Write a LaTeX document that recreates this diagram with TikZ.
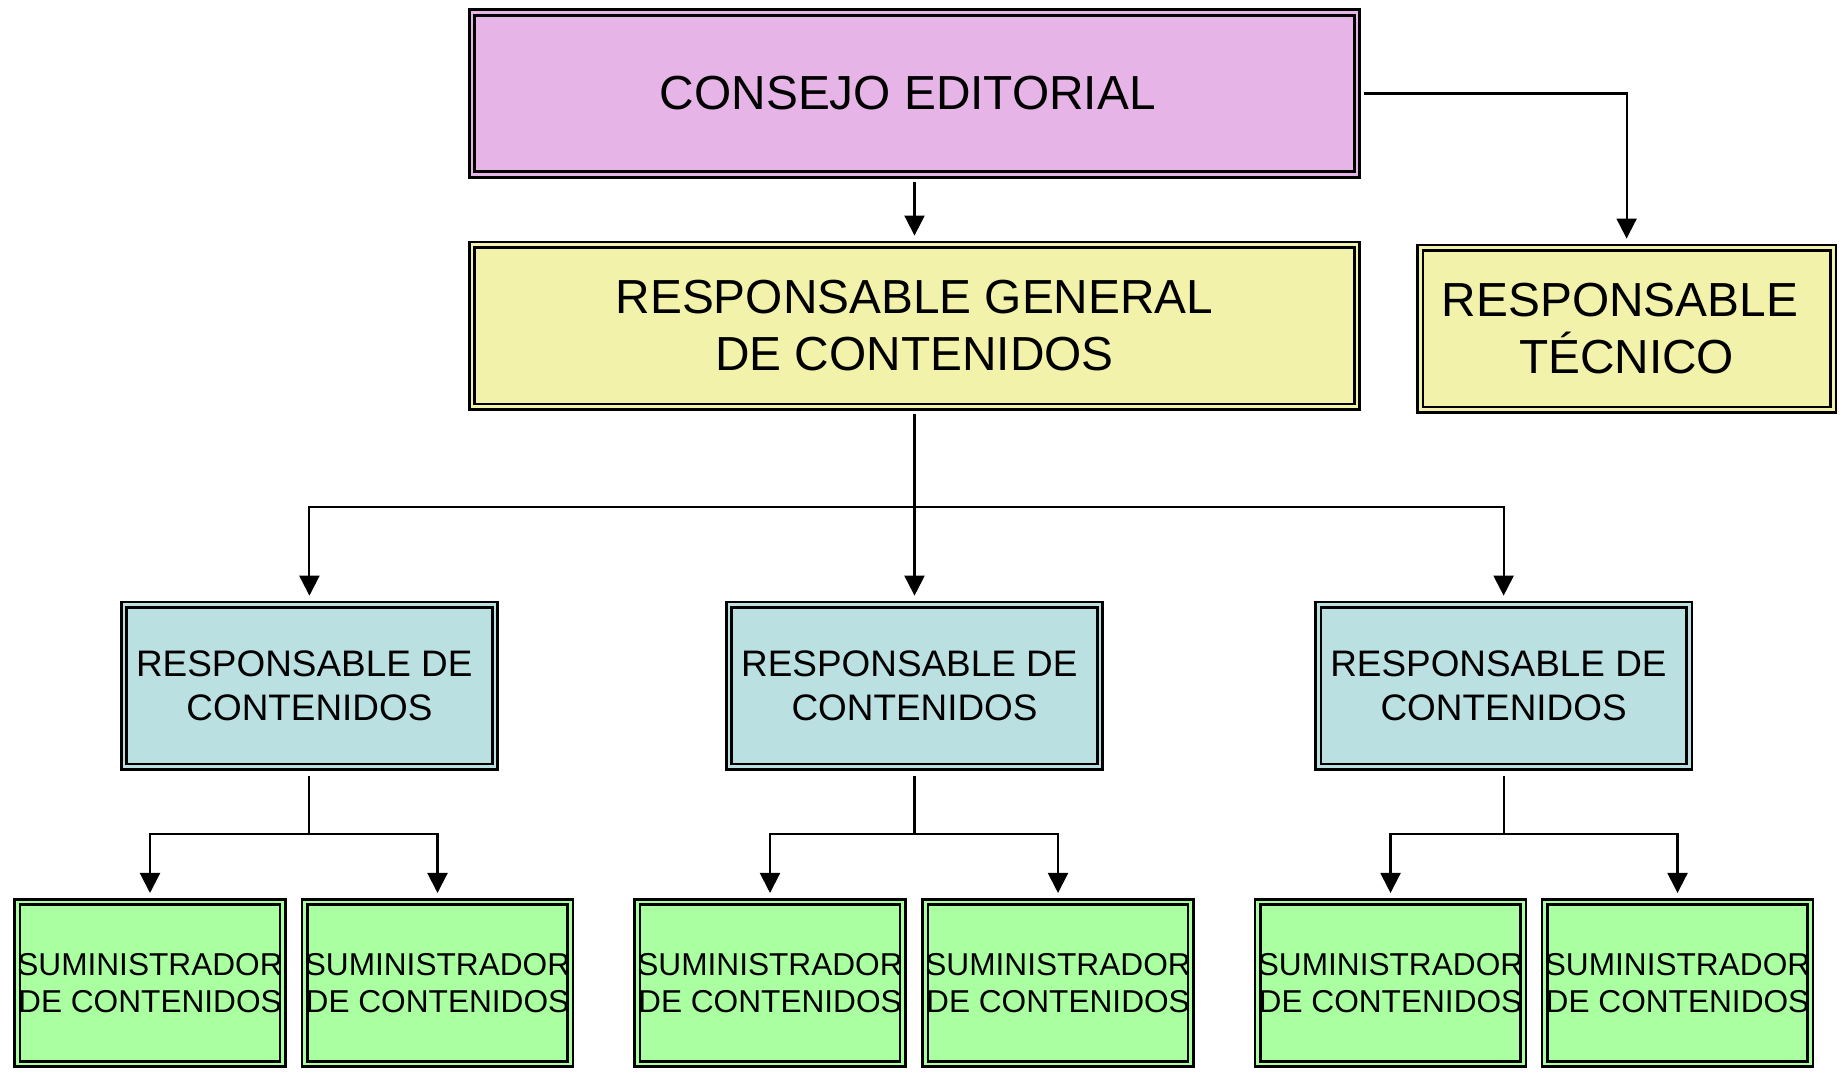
\documentclass[tikz,border=0pt]{standalone}
\usepackage{fontspec}
\setmainfont{Liberation Sans}
\usetikzlibrary{arrows.meta,positioning,calc}

\definecolor{consejo}{RGB}{230,180,230}
\definecolor{general}{RGB}{242,242,170}
\definecolor{contenidos}{RGB}{186,224,226}
\definecolor{suministro}{RGB}{170,255,160}

\begin{document}
\begin{tikzpicture}[
    box/.style={
        rectangle,
        draw=black,
        line width=0.75pt,
        double distance=0.8pt,
        align=center,
        inner sep=0pt,
        outer sep=1.15pt,
        minimum height=1.62cm
    },
    topblock/.style={
        box,
        fill=consejo,
        double=consejo,
        minimum width=8.85cm,
        font=\fontsize{13.6}{16.4}\selectfont
    },
    mainblock/.style={
        box,
        fill=general,
        double=general,
        font=\fontsize{13.6}{16.4}\selectfont
    },
    areablock/.style={
        box,
        fill=contenidos,
        double=contenidos,
        minimum width=3.71cm,
        font=\fontsize{10.5}{12.7}\selectfont
    },
    supplyblock/.style={
        box,
        fill=suministro,
        double=suministro,
        minimum width=2.65cm,
        font=\fontsize{9}{10.7}\selectfont
    },
    line/.style={draw=black, line width=0.6pt},
    link/.style={line, -{Triangle[length=2mm,width=2mm]},
        shorten <=0.3mm, shorten >=0.5mm}
]
\useasboundingbox (0,0) rectangle (18.43,-10.73);

% Top level
\node [topblock] (consejo) at (9.145,-0.935) {CONSEJO EDITORIAL\kern.28em};

\node [mainblock, minimum width=8.85cm, below=0.62cm of consejo] (general)
    {RESPONSABLE GENERAL\\DE CONTENIDOS};

\node [mainblock, minimum width=4.13cm, right=0.55cm of general, yshift=-0.03cm] (tecnico)
    {RESPONSABLE\kern.28em\\T\'ECNICO};

% Content managers
\node [areablock, below=1.9cm of general] (area2) {RESPONSABLE DE\kern.28em\\CONTENIDOS};
\node [areablock, left=2.26cm of area2] (area1) {RESPONSABLE DE\kern.28em\\CONTENIDOS};
\node [areablock, right=2.10cm of area2] (area3) {RESPONSABLE DE\kern.28em\\CONTENIDOS};

% Content suppliers
\node [supplyblock] (sum1) at (1.50,-9.83) {SUMINISTRADOR\\DE CONTENIDOS};
\node [supplyblock] (sum2) at (4.375,-9.83) {SUMINISTRADOR\\DE CONTENIDOS};
\node [supplyblock] (sum3) at (7.70,-9.83) {SUMINISTRADOR\\DE CONTENIDOS};
\node [supplyblock] (sum4) at (10.58,-9.83) {SUMINISTRADOR\\DE CONTENIDOS};
\node [supplyblock] (sum5) at (13.905,-9.83) {SUMINISTRADOR\\DE CONTENIDOS};
\node [supplyblock] (sum6) at (16.775,-9.83) {SUMINISTRADOR\\DE CONTENIDOS};

% Connections
\draw [link] (consejo) -- (general);
\draw [link] (consejo.east) -| (tecnico.north);

\coordinate (split) at ($(general.south)+(0,-0.96)$);
\draw [link] (general) -- (area2);
\draw [link, shorten <=0pt] (split) -| (area1.north);
\draw [link, shorten <=0pt] (split) -| (area3.north);

\draw [line, shorten <=0.5mm] (area1.south) -- ++(0,-0.63) coordinate (fork1);
\draw [line, shorten <=0.5mm] (area2.south) -- ++(0,-0.63) coordinate (fork2);
\draw [line, shorten <=0.5mm] (area3.south) -- ++(0,-0.63) coordinate (fork3);

\draw [link, shorten <=0pt] (fork1) -| (sum1.north);
\draw [link, shorten <=0pt] (fork1) -| (sum2.north);
\draw [link, shorten <=0pt] (fork2) -| (sum3.north);
\draw [link, shorten <=0pt] (fork2) -| (sum4.north);
\draw [link, shorten <=0pt] (fork3) -| (sum5.north);
\draw [link, shorten <=0pt] (fork3) -| (sum6.north);

\end{tikzpicture}
\end{document}
